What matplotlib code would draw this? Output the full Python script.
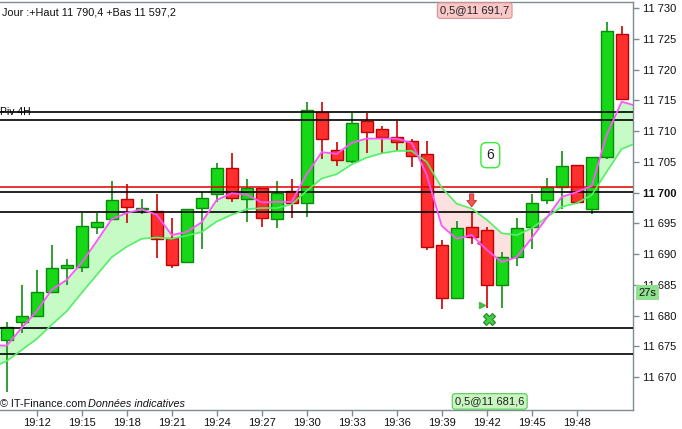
import numpy as np
import matplotlib
matplotlib.use("Agg")
import matplotlib.pyplot as plt
import matplotlib.transforms as mtransforms

plt.rcParams['font.family'] = ['Liberation Sans', 'DejaVu Sans']

# ---- Candles, one per minute (19:10 .. 19:51) ----
minutes = list(range(10, 52))
opens = [11676.1, 11678.9, 11679.9, 11683.8, 11687.7, 11687.9, 11694.4, 11695.7, 11698.9, 11697.4,
         11697.0, 11692.7, 11688.7, 11697.5, 11699.8, 11704.0, 11698.9, 11700.7, 11695.7, 11700.2,
         11698.3, 11713.2, 11706.9, 11705.2, 11711.7, 11710.3, 11709.0, 11708.4, 11706.3, 11691.5,
         11682.8, 11694.4, 11693.9, 11684.9, 11689.5, 11694.4, 11698.8, 11700.9, 11704.5, 11697.4,
         11705.8, 11725.9]
highs = [11678.9, 11685.0, 11687.4, 11691.5, 11689.2, 11696.7, 11696.7, 11701.9, 11701.4, 11699.0,
         11699.8, 11695.8, 11697.3, 11700.1, 11704.9, 11706.4, 11702.3, 11700.7, 11701.9, 11702.2,
         11714.8, 11714.7, 11708.2, 11713.0, 11713.0, 11710.9, 11711.7, 11708.7, 11708.4, 11692.3,
         11695.4, 11696.9, 11694.4, 11690.3, 11695.9, 11699.8, 11702.4, 11706.8, 11704.5, 11705.8,
         11727.7, 11727.2]
lows = [11667.5, 11677.2, 11679.9, 11683.8, 11684.9, 11687.1, 11693.3, 11695.7, 11695.1, 11696.6,
        11689.3, 11687.7, 11688.7, 11690.9, 11698.4, 11698.4, 11695.3, 11694.4, 11694.2, 11695.8,
        11696.1, 11705.4, 11704.3, 11704.9, 11706.4, 11706.5, 11706.7, 11704.2, 11690.6, 11681.0,
        11682.8, 11691.6, 11681.2, 11681.2, 11688.1, 11690.9, 11698.1, 11697.4, 11698.2, 11696.5,
        11705.4, 11715.2]
closes = [11678.2, 11679.9, 11683.8, 11687.7, 11688.2, 11694.5, 11695.3, 11698.8, 11697.6, 11697.5,
          11692.4, 11688.3, 11697.3, 11699.2, 11704.0, 11699.2, 11700.7, 11695.8, 11699.9, 11698.3,
          11713.4, 11708.7, 11705.3, 11711.3, 11709.9, 11709.1, 11708.3, 11705.9, 11691.1, 11682.8,
          11694.3, 11692.8, 11684.9, 11689.6, 11694.2, 11698.3, 11700.9, 11704.3, 11698.4, 11705.8,
          11726.3, 11715.2]

# ---- Moving averages (19:09 .. 19:52) ----
ma_minutes = list(range(9, 53))
ma_fast = [11675.2, 11675.1, 11678.0, 11680.7, 11684.2, 11685.8, 11688.6, 11692.1, 11695.7, 11696.7,
           11697.3, 11696.4, 11693.1, 11693.6, 11695.2, 11698.8, 11699.9, 11699.7, 11698.4, 11698.5,
           11698.5, 11703.0, 11706.6, 11706.3, 11708.1, 11708.8, 11708.8, 11708.8, 11708.1, 11702.9,
           11694.6, 11692.5, 11693.1, 11690.7, 11688.7, 11689.5, 11692.6, 11695.9, 11699.3, 11700.1,
           11701.1, 11709.4, 11714.8, 11714.1]
ma_slow = [11671.5, 11672.6, 11674.4, 11676.2, 11678.5, 11680.7, 11683.7, 11686.6, 11689.5, 11691.2,
           11692.5, 11692.7, 11692.5, 11693.0, 11693.6, 11695.3, 11696.4, 11697.3, 11697.5, 11697.5,
           11698.1, 11700.3, 11702.3, 11703.0, 11704.6, 11705.7, 11706.4, 11706.8, 11706.8, 11705.0,
           11700.8, 11698.2, 11697.4, 11695.6, 11693.4, 11693.1, 11694.2, 11696.0, 11697.7, 11698.3,
           11699.6, 11703.4, 11707.1, 11708.1]

# ---- Horizontal levels ----
black_levels = [11713.1, 11711.8, 11700.05, 11696.8, 11677.9, 11673.7]
red_level = 11700.9
pivot_level = 11713.1

tick_values = list(range(11670, 11731, 5))
time_ticks = list(range(12, 49, 3))
time_labels = ["19:%02d" % m for m in time_ticks]

fig = plt.figure(figsize=(6.82, 4.29), dpi=100)
ax = fig.add_axes([0, 1 - 410 / 429, 633 / 682, 408 / 429])

x = np.array(minutes)
o = np.array(opens); h = np.array(highs); l = np.array(lows); c = np.array(closes)
up = c >= o

# fill between averages
mx = np.array(ma_minutes)
f = np.array(ma_fast); s = np.array(ma_slow)
ax.fill_between(mx, f, s, where=f >= s, interpolate=True, color='#c6fbc6', lw=0, zorder=1)
ax.fill_between(mx, f, s, where=f < s, interpolate=True, color='#fde0e0', lw=0, zorder=1)

# wicks and bodies
wick_col = np.where(up, '#0f8f0f', '#cc0000')
ax.vlines(x, l, h, colors=wick_col, lw=1.2, zorder=2)
body_bot = np.minimum(o, c)
body_h = np.maximum(np.abs(c - o), 0.08)
ax.bar(x[up], body_h[up], bottom=body_bot[up], width=0.82,
       color='#16d816', edgecolor='#0a8a0a', lw=1.0, zorder=3)
ax.bar(x[~up], body_h[~up], bottom=body_bot[~up], width=0.82,
       color='#ff2f2f', edgecolor='#c00000', lw=1.0, zorder=3)

# levels
for lv in black_levels:
    ax.axhline(lv, color='black', lw=1.2, zorder=4)
ax.axhline(red_level, color='#e00000', lw=1.1, zorder=4)

# averages
ax.plot(mx, s, color='#55ee66', lw=1.2, zorder=5)
ax.plot(mx, f, color='#ff55ff', lw=1.3, zorder=5)

# signals
ax.annotate('', xy=(41, 11697.7), xytext=(41, 11699.8),
            arrowprops=dict(arrowstyle='simple,head_width=0.7,head_length=0.45,tail_width=0.3',
                            mutation_scale=10, shrinkA=0, shrinkB=0,
                            fc='#f05555', ec='#c03030', lw=0.6), zorder=6)
ax.plot([41.55], [11691.8], marker='<', ms=5, color='#e05050', zorder=2.5)
ax.plot([41.7], [11681.7], marker='>', ms=5, color='#44bb44', zorder=6)
ax.plot([42.17], [11679.5], marker='X', ms=9, mfc='#44cc44', mec='#228822', mew=0.8, zorder=6)
ax.text(42.24, 11706.1, '6', fontsize=10, ha='center', va='center', color='#222222',
        bbox=dict(boxstyle='round,pad=0.4,rounding_size=0.4', fc='white', ec='#33ee33', lw=1.0), zorder=6)

bx = mtransforms.blended_transform_factory(ax.transData, ax.transAxes)
ax.text(41.2, 0.979, '0,5@11 691,7', transform=bx, fontsize=8, ha='center', va='center', color='#222222',
        bbox=dict(boxstyle='round,pad=0.25', fc='#f9c8c8', ec='#e09090', lw=0.8), zorder=7)
ax.text(42.2, 0.021, '0,5@11 681,6', transform=bx, fontsize=8, ha='center', va='center', color='#222222',
        bbox=dict(boxstyle='round,pad=0.25', fc='#c8f5c0', ec='#55cc55', lw=0.8), zorder=7)

# texts
by = mtransforms.blended_transform_factory(ax.transAxes, ax.transData)
ax.text(0.003, 0.975, 'Jour :+Haut 11 790,4 +Bas 11 597,2', transform=ax.transAxes,
        fontsize=7.8, ha='left', va='center', color='#111111')
ax.text(0.0, pivot_level, 'Piv 4H', transform=by, fontsize=7.5, ha='left', va='center',
        color='black', zorder=3.5)
ax.text(0.0, 0.015, '© IT-Finance.com', transform=ax.transAxes, fontsize=7.8, ha='left', va='center',
        color='#111111')
ax.text(0.1395, 0.015, 'Données indicatives', transform=ax.transAxes, fontsize=7.8, style='italic',
        ha='left', va='center', color='#111111')
ax.text(1.009, 11683.75, '27s', transform=by, fontsize=8, ha='left', va='center', color='#111111',
        bbox=dict(boxstyle='square,pad=0.2', fc='#8fe08f', ec='none'), clip_on=False, zorder=8)

# axes
ax.set_xlim(9.553, 51.753)
ax.set_ylim(11664.63, 11731.03)
ax.spines['left'].set_visible(False)
for side in ['right', 'bottom', 'top']:
    ax.spines[side].set_color('#7f8c94')
    ax.spines[side].set_linewidth(1.0)
ax.yaxis.tick_right()
ax.set_yticks(tick_values)
ax.set_yticklabels([("%d" % v)[:2] + " " + ("%d" % v)[2:] for v in tick_values])
for lbl, v in zip(ax.get_yticklabels(), tick_values):
    if v == 11700:
        lbl.set_fontweight('bold')
        lbl.set_fontsize(9)
ax.set_xticks(time_ticks)
ax.set_xticklabels(time_labels)
ax.tick_params(axis='both', colors='#7f8c94', labelcolor='#111111', labelsize=8, length=4, width=1, pad=2)
ax.tick_params(axis='y', pad=3)

fig.savefig('out.png', dpi=100)
